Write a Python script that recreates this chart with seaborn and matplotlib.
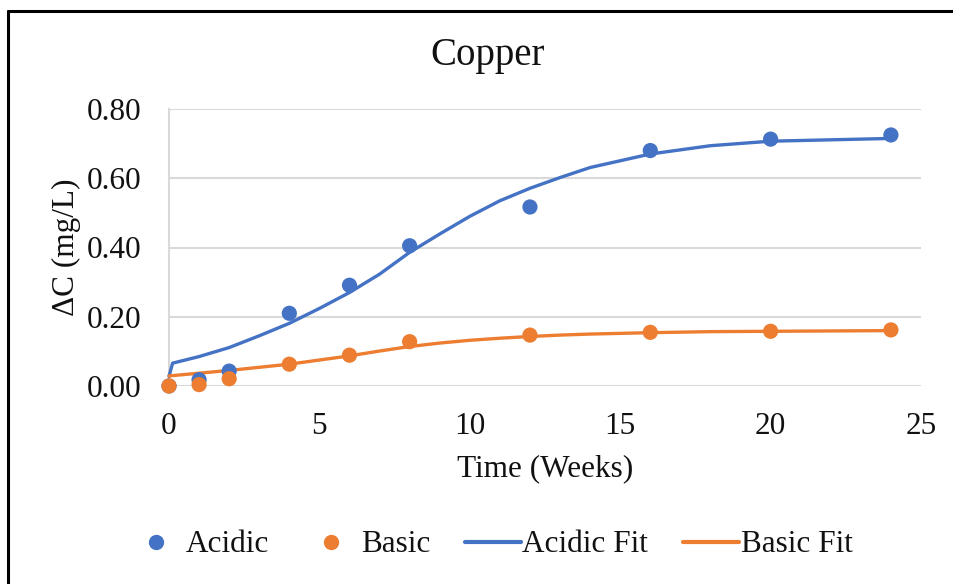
import numpy as np
import pandas as pd
import matplotlib
matplotlib.use("Agg")
import matplotlib.pyplot as plt
from matplotlib.lines import Line2D
import seaborn as sns

# Measured concentration change (mg/L) over time (weeks)
weeks = [0, 1, 2, 4, 6, 8, 12, 16, 20, 24]
acidic = [0.000, 0.018, 0.043, 0.210, 0.291, 0.405, 0.517, 0.680, 0.713, 0.725]
basic = [0.000, 0.004, 0.021, 0.063, 0.089, 0.128, 0.147, 0.155, 0.158, 0.162]

# Fitted model curves
fit_weeks = [0, 0.12, 1, 2, 3, 4, 5, 6, 7, 8, 9, 10, 11, 12, 13, 14, 16, 18, 20, 22, 24]
acidic_fit = [0.028, 0.066, 0.085, 0.111, 0.145, 0.181, 0.224, 0.270, 0.323, 0.386,
              0.439, 0.490, 0.535, 0.571, 0.602, 0.631, 0.670, 0.694, 0.707, 0.711, 0.715]
basic_fit = [0.029, 0.030, 0.037, 0.045, 0.054, 0.063, 0.075, 0.087, 0.101, 0.114,
             0.124, 0.132, 0.138, 0.143, 0.147, 0.150, 0.154, 0.157, 0.158, 0.159, 0.160]

BLUE = "#4472C4"
ORANGE = "#ED7D31"
TEXT = "#111111"

sns.set_theme(style="white")
plt.rcParams["font.family"] = ["Liberation Serif", "DejaVu Serif"]

fig = plt.figure(figsize=(9.54, 5.84), dpi=100)
ax = fig.add_axes([169 / 954, 1 - 386 / 584, (921 - 169) / 954, (386 - 109) / 584])

pts = pd.DataFrame({"Week": weeks * 2,
                    "dC": acidic + basic,
                    "Series": ["Acidic"] * len(weeks) + ["Basic"] * len(weeks)})
fits = pd.DataFrame({"Week": fit_weeks * 2,
                     "dC": acidic_fit + basic_fit,
                     "Series": ["Acidic Fit"] * len(fit_weeks) + ["Basic Fit"] * len(fit_weeks)})

sns.lineplot(data=fits, x="Week", y="dC", hue="Series",
             palette={"Acidic Fit": BLUE, "Basic Fit": ORANGE},
             linewidth=2.4, ax=ax, legend=False, zorder=3, clip_on=False)
sns.scatterplot(data=pts, x="Week", y="dC", hue="Series",
                palette={"Acidic": BLUE, "Basic": ORANGE},
                s=120, edgecolor="none", ax=ax, legend=False, zorder=4, clip_on=False)

ax.set_xlim(0, 25)
ax.set_ylim(0, 0.8)
ax.set_xticks([0, 5, 10, 15, 20, 25])
ax.set_yticks([0, 0.2, 0.4, 0.6, 0.8])
ax.set_yticklabels([f"{v:.2f}" for v in [0, 0.2, 0.4, 0.6, 0.8]])
ax.tick_params(axis="both", labelsize=22.5, length=0, colors=TEXT)
ax.tick_params(axis="x", pad=19)
ax.tick_params(axis="y", pad=20)
ax.grid(axis="y", color="#D9D9D9", linewidth=1.5)
ax.set_axisbelow(True)
for side in ["top", "right", "bottom"]:
    ax.spines[side].set_visible(False)
ax.spines["left"].set_color("#D9D9D9")
ax.spines["left"].set_linewidth(1.5)

ax.set_xlabel("Time (Weeks)", fontsize=22.5, color=TEXT, labelpad=9)
ax.set_ylabel("ΔC (mg/L)", fontsize=22.5, color=TEXT, labelpad=4)
fig.text(488 / 954, 1 - 56 / 584, "Copper", ha="center", va="center", fontsize=28, color=TEXT)

handles = [
    Line2D([], [], marker="o", linestyle="none", color=BLUE, markersize=10),
    Line2D([], [], marker="o", linestyle="none", color=ORANGE, markersize=10),
    Line2D([], [], color=BLUE, linewidth=3),
    Line2D([], [], color=ORANGE, linewidth=3),
]
fig.legend(handles, ["Acidic", "Basic", "Acidic Fit", "Basic Fit"],
           loc="center", bbox_to_anchor=(490 / 954, 1 - 545 / 584), ncol=4, frameon=False,
           fontsize=22.5, handlelength=1.8, handletextpad=0.05, columnspacing=1.1,
           labelcolor=TEXT)

# Outer frame of the chart
fig.add_artist(Line2D([8 / 954, 8 / 954], [0, 1 - 11 / 584], transform=fig.transFigure,
                      color="black", linewidth=2.2))
fig.add_artist(Line2D([8 / 954, 1], [1 - 11 / 584, 1 - 11 / 584], transform=fig.transFigure,
                      color="black", linewidth=2.2))

fig.savefig("out.png", dpi=100)
